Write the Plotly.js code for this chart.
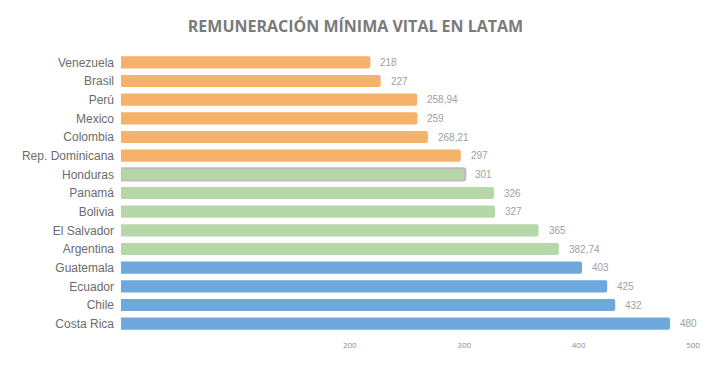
<!DOCTYPE html>
<html>
<head>
<meta charset="utf-8">
<script src="https://cdn.plot.ly/plotly-3.0.1.min.js"></script>
<style>html,body{margin:0;padding:0;background:#fff;}#chart{width:711px;height:372px;}</style>
</head>
<body>
<div id="chart"></div>
<script>
const countries = ["Venezuela","Brasil","Perú","Mexico","Colombia","Rep. Dominicana","Honduras","Panamá","Bolivia","El Salvador","Argentina","Guatemala","Ecuador","Chile","Costa Rica"];
const values = [218,227,258.94,259,268.21,297,301,326,327,365,382.74,403,425,432,480];
const valueLabels = ["218","227","258,94","259","268,21","297","301","326","327","365","382,74","403","425","432","480"];
const groups = ["low","low","low","low","low","low","mid","mid","mid","mid","mid","high","high","high","high"];
const tickValues = [200,300,400,500];
const tickLabels = ["200","300","400","500"];

const groupColors = {low:"#F6B26B", mid:"#B6D7A8", high:"#6FA8DC"};
const colors = groups.map(g => groupColors[g]);
const lineColors = countries.map(c => c === "Honduras" ? "#bdbdbd" : colors[countries.indexOf(c)]);
const lineWidths = countries.map(c => c === "Honduras" ? 2 : 0);

const trace = {
  type: "bar",
  orientation: "h",
  y: countries,
  x: values,
  marker: {color: colors, line: {color: lineColors, width: lineWidths}, cornerradius: 2},
  hoverinfo: "none"
};

const annotations = countries.map((c, i) => ({
  x: values[i], y: c, xref: "x", yref: "y",
  text: valueLabels[i], showarrow: false,
  xanchor: "left", xshift: 8,
  font: {family: "Liberation Sans, Arial, sans-serif", size: 10, color: "#a0a0a0"}
}));

const layout = {
  width: 711, height: 372,
  margin: {l: 121, r: 18, t: 53, b: 39},
  paper_bgcolor: "#fff", plot_bgcolor: "#fff",
  title: {
    text: "<b>REMUNERACIÓN MÍNIMA VITAL EN LATAM</b>",
    font: {family: "Open Sans, sans-serif", size: 16, color: "#7a7a7a"},
    x: 0.5, xanchor: "center", y: 0.93, yanchor: "middle"
  },
  bargap: 0.35,
  showlegend: false,
  xaxis: {
    range: [0, 500], tickvals: tickValues, ticktext: tickLabels,
    showgrid: false, zeroline: false, showline: false,
    tickfont: {family: "Open Sans, sans-serif", size: 8, color: "#8c8c8c"},
    ticklen: 0, ticklabelstandoff: 6
  },
  yaxis: {
    autorange: "reversed", showgrid: false, zeroline: false, showline: false,
    tickfont: {family: "Liberation Sans, Arial, sans-serif", size: 12, color: "#6b6b6b"},
    ticklen: 0, ticklabelstandoff: 6
  },
  annotations: annotations
};

Plotly.newPlot("chart", [trace], layout, {displayModeBar: false, staticPlot: true});
</script>
</body>
</html>
